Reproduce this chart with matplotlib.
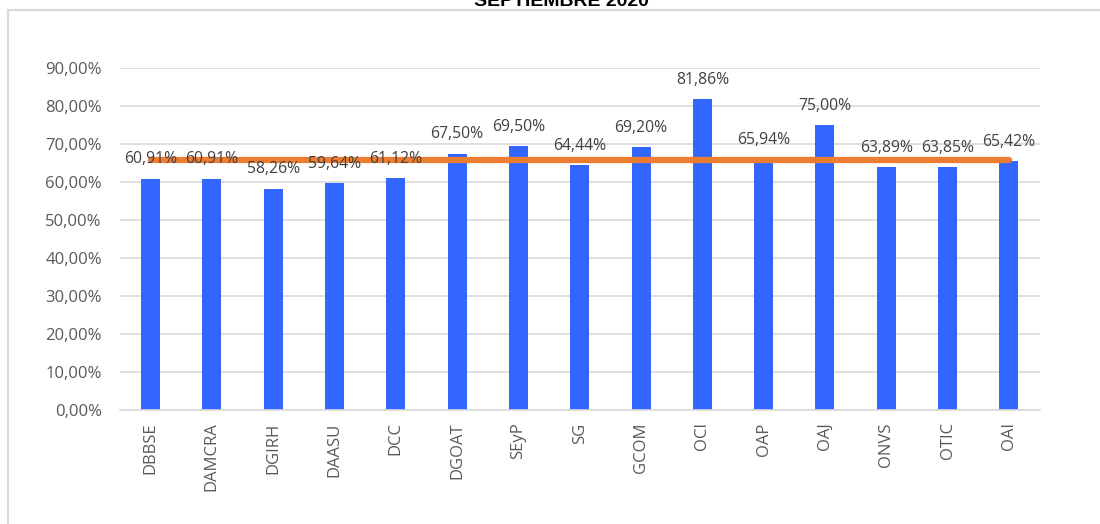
import matplotlib.pyplot as plt
from matplotlib.patches import Rectangle
from matplotlib.ticker import FuncFormatter

# categories and values (percent)
areas = ['DBBSE', 'DAMCRA', 'DGIRH', 'DAASU', 'DCC', 'DGOAT', 'SEyP', 'SG',
         'GCOM', 'OCI', 'OAP', 'OAJ', 'ONVS', 'OTIC', 'OAI']
valores = [60.91, 60.91, 58.26, 59.64, 61.12, 67.50, 69.50, 64.44,
           69.20, 81.86, 65.94, 75.00, 63.89, 63.85, 65.42]
promedio = [65.83] * len(areas)  # orange average line

plt.rcParams['font.family'] = ['Open Sans', 'DejaVu Sans']

fig = plt.figure(figsize=(11, 5.24), dpi=100)
ax = fig.add_axes([0.109, 0.218, 0.836, 0.652])

x = list(range(len(areas)))
ax.bar(x, valores, width=0.31, color='#3366FF', zorder=2)
ax.plot(x, promedio, color='#ED7D31', linewidth=4.5, zorder=3,
        solid_capstyle='round')

for xi, v in zip(x, valores):
    ax.annotate(f'{v:.2f}%'.replace('.', ','), (xi, v), xytext=(0, 8),
                textcoords='offset points', ha='center', va='bottom',
                fontsize=11.3, color='#404040', zorder=4)

ax.set_xlim(-0.5, len(areas) - 0.5)
ax.set_ylim(0, 90)
ax.set_yticks(range(0, 91, 10))
ax.yaxis.set_major_formatter(FuncFormatter(lambda v, p: f'{v:.2f}%'.replace('.', ',')))
ax.set_xticks(x)
ax.set_xticklabels(areas, rotation=90)
ax.tick_params(axis='y', length=0, pad=13, labelsize=12, labelcolor='#595959')
ax.tick_params(axis='x', length=0, pad=9, labelsize=12, labelcolor='#595959')
ax.grid(axis='y', color='#D9D9D9', linewidth=1.2, zorder=0)
ax.set_axisbelow(True)
for s in ['top', 'right', 'left']:
    ax.spines[s].set_visible(False)
ax.spines['bottom'].set_color('#D9D9D9')
ax.spines['bottom'].set_linewidth(1.2)

# chart frame and cut-off title
fig.patches.append(Rectangle((8 / 1100, -0.1), 1.2, 1 - 10 / 524 + 0.1,
                             transform=fig.transFigure, fill=False,
                             edgecolor='#D9D9D9', linewidth=1.5))
fig.text(0.51, 1 - 6 / 524, 'SEPTIEMBRE 2020', ha='center', va='baseline',
         fontsize=14, fontweight='bold', family='Liberation Sans', color='black')

fig.savefig('out.png', dpi=100, facecolor='white')
